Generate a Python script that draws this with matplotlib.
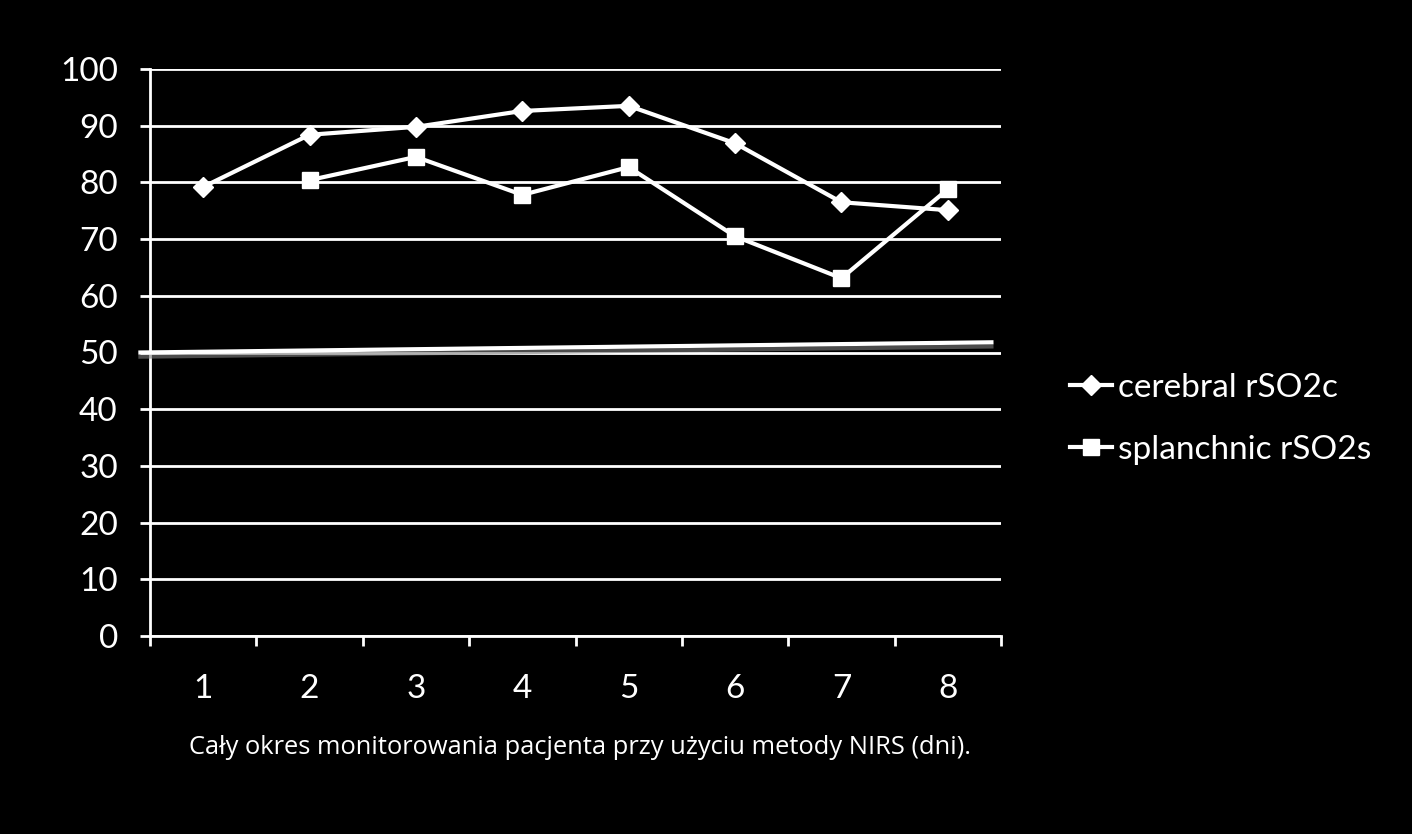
import numpy as np
import matplotlib
matplotlib.use("Agg")
import matplotlib.pyplot as plt
import matplotlib.patheffects as pe

days = [1, 2, 3, 4, 5, 6, 7, 8]
cerebral = [79.2, 88.4, 89.8, 92.6, 93.5, 86.9, 76.5, 75.1]
splanchnic = [np.nan, 80.4, 84.5, 77.8, 82.7, 70.5, 63.1, 78.8]
threshold_x = [0.41, 8.41]
threshold_y = [50.0, 51.8]
yticks = [0, 10, 20, 30, 40, 50, 60, 70, 80, 90, 100]
xlabel = "Cały okres monitorowania pacjenta przy użyciu metody NIRS (dni)."
labels = ["cerebral rSO2c", "splanchnic rSO2s"]

plt.rcParams['font.family'] = ['Lato', 'DejaVu Sans']

fig = plt.figure(figsize=(14.12, 8.34), dpi=100, facecolor='black')
ax = fig.add_axes([150/1412, 1-636/834, (1001-150)/1412, (636-69)/834])
ax.set_facecolor('black')

ax.set_xlim(0.5, 8.5)
ax.set_ylim(0, 100)
ax.set_yticks(yticks)
ax.set_xticks(days)
ax.set_xticks(np.arange(0.5, 8.6, 1.0), minor=True)
ax.tick_params(axis='x', which='major', length=0, pad=27, labelsize=24, colors='white')
ax.tick_params(axis='x', which='minor', length=7.2, width=2, color='white', direction='out')
ax.tick_params(axis='y', which='major', length=7.2, width=2, color='white', labelsize=24,
               labelcolor='white', pad=16)
ax.grid(axis='y', color='white', linewidth=2)
ax.set_axisbelow(True)
for s in ['top', 'right']:
    ax.spines[s].set_visible(False)
for s in ['left', 'bottom']:
    ax.spines[s].set_color('white')
    ax.spines[s].set_linewidth(2)

l1, = ax.plot(days, cerebral, color='white', lw=3, marker='D', markersize=10,
              label=labels[0], zorder=4, clip_on=False)
l2, = ax.plot(days, splanchnic, color='white', lw=3, marker='s', markersize=12,
              label=labels[1], zorder=4, clip_on=False)

ax.plot(threshold_x, threshold_y, color='white', lw=3, clip_on=False, zorder=5,
        path_effects=[pe.SimpleLineShadow(offset=(0, -3), shadow_color='gray', alpha=0.6),
                      pe.Normal()])

fig.text(580/1412, 1-748/834, xlabel, color='white', fontsize=18.4, ha='center', va='center',
         family=['Open Sans', 'DejaVu Sans'])

leg = fig.legend(handles=[l1, l2], loc='center left', bbox_to_anchor=(1070/1412, 1-419/834),
                 frameon=False, fontsize=24, handlelength=1.26, handletextpad=0.18,
                 labelspacing=0.95, labelcolor='white', borderaxespad=0, borderpad=0)

fig.savefig('out.png', dpi=100, facecolor='black')
